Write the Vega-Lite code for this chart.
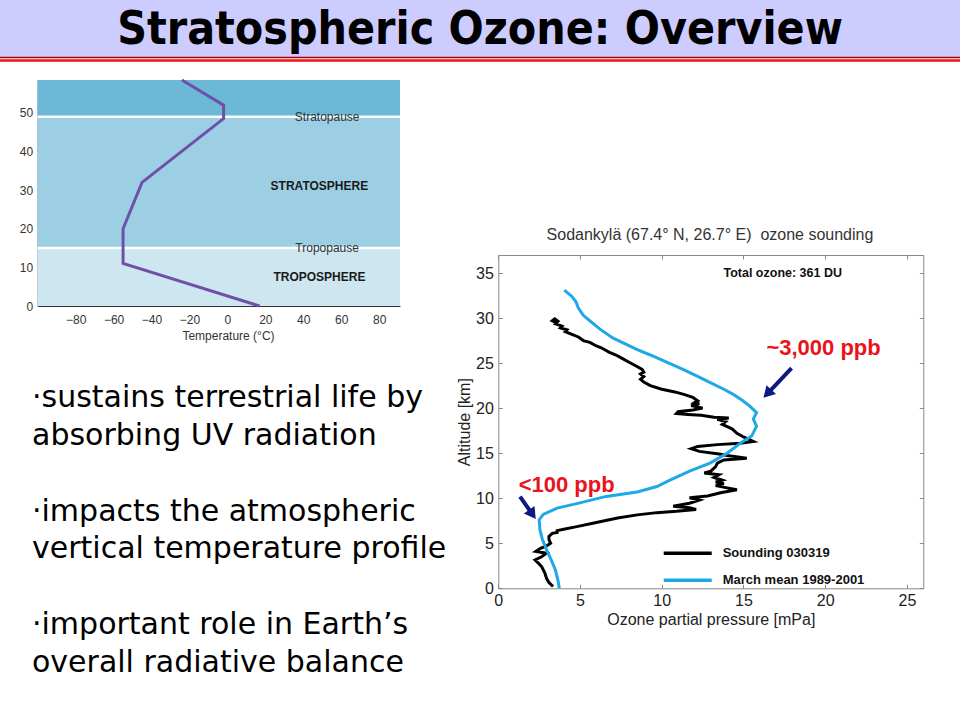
{
  "$schema": "https://vega.github.io/schema/vega-lite/v6.json",
  "width": 960,
  "height": 720,
  "autosize": {"type": "none"},
  "padding": 0,
  "background": "white",
  "config": {
    "view": {"stroke": null},
    "axis": {"grid": false, "labelFont": "Liberation Sans", "titleFont": "Liberation Sans", "labelFlush": false, "labelOverlap": false},
    "text": {"font": "Liberation Sans"}
  },
  "datasets": {
    "bands": [
      {"layer": "Troposphere", "bottom": 0, "top": 15},
      {"layer": "Stratosphere", "bottom": 15, "top": 49},
      {"layer": "Mesosphere", "bottom": 49, "top": 58.5}
    ],
    "boundaries": [
      {"name": "Tropopause", "alt": 15},
      {"name": "Stratopause", "alt": 49}
    ],
    "regions": [
      {"name": "TROPOSPHERE", "alt": 7.5},
      {"name": "STRATOSPHERE", "alt": 31}
    ],
    "profile": [
      {"temp": 17, "alt": 0},
      {"temp": -55, "alt": 11},
      {"temp": -55, "alt": 20},
      {"temp": -45, "alt": 32},
      {"temp": -2, "alt": 48.5},
      {"temp": -2, "alt": 52},
      {"temp": -24, "alt": 58.5}
    ],
    "bullets": [
      {"line": 1, "text": "·sustains terrestrial life by"},
      {"line": 2, "text": "absorbing UV radiation"},
      {"line": 4, "text": "·impacts the atmospheric"},
      {"line": 5, "text": "vertical temperature profile"},
      {"line": 7, "text": "·important role in Earth’s"},
      {"line": 8, "text": "overall radiative balance"}
    ],
    "ozone": [
      {"series": "Sounding 030319", "p": 3.5, "alt": 29.5},
      {"series": "Sounding 030319", "p": 3.3, "alt": 29.7},
      {"series": "Sounding 030319", "p": 3.45, "alt": 29.9},
      {"series": "Sounding 030319", "p": 3.65, "alt": 29.65},
      {"series": "Sounding 030319", "p": 3.5, "alt": 29.35},
      {"series": "Sounding 030319", "p": 3.9, "alt": 29.1},
      {"series": "Sounding 030319", "p": 3.8, "alt": 28.9},
      {"series": "Sounding 030319", "p": 4.2, "alt": 28.7},
      {"series": "Sounding 030319", "p": 4.1, "alt": 28.5},
      {"series": "Sounding 030319", "p": 4.5, "alt": 28.2},
      {"series": "Sounding 030319", "p": 4.9, "alt": 27.9},
      {"series": "Sounding 030319", "p": 5.2, "alt": 27.5},
      {"series": "Sounding 030319", "p": 5.6, "alt": 27.3},
      {"series": "Sounding 030319", "p": 6.0, "alt": 26.9},
      {"series": "Sounding 030319", "p": 6.3, "alt": 26.7},
      {"series": "Sounding 030319", "p": 6.8, "alt": 26.2},
      {"series": "Sounding 030319", "p": 7.2, "alt": 25.9},
      {"series": "Sounding 030319", "p": 7.6, "alt": 25.5},
      {"series": "Sounding 030319", "p": 8.0, "alt": 25.1},
      {"series": "Sounding 030319", "p": 8.4, "alt": 24.7},
      {"series": "Sounding 030319", "p": 8.8, "alt": 24.3},
      {"series": "Sounding 030319", "p": 8.9, "alt": 24.0},
      {"series": "Sounding 030319", "p": 8.7, "alt": 23.8},
      {"series": "Sounding 030319", "p": 8.9, "alt": 23.5},
      {"series": "Sounding 030319", "p": 8.7, "alt": 23.2},
      {"series": "Sounding 030319", "p": 8.9, "alt": 22.9},
      {"series": "Sounding 030319", "p": 9.3, "alt": 22.5},
      {"series": "Sounding 030319", "p": 10.0, "alt": 22.1},
      {"series": "Sounding 030319", "p": 10.8, "alt": 21.8},
      {"series": "Sounding 030319", "p": 11.4, "alt": 21.5},
      {"series": "Sounding 030319", "p": 11.9, "alt": 21.2},
      {"series": "Sounding 030319", "p": 12.2, "alt": 20.8},
      {"series": "Sounding 030319", "p": 12.0, "alt": 20.6},
      {"series": "Sounding 030319", "p": 12.3, "alt": 20.5},
      {"series": "Sounding 030319", "p": 11.8, "alt": 20.3},
      {"series": "Sounding 030319", "p": 12.5, "alt": 20.0},
      {"series": "Sounding 030319", "p": 11.9, "alt": 19.8},
      {"series": "Sounding 030319", "p": 11.0, "alt": 19.6},
      {"series": "Sounding 030319", "p": 10.9, "alt": 19.4},
      {"series": "Sounding 030319", "p": 11.6, "alt": 19.3},
      {"series": "Sounding 030319", "p": 12.4, "alt": 19.2},
      {"series": "Sounding 030319", "p": 13.2, "alt": 19.0},
      {"series": "Sounding 030319", "p": 14.1, "alt": 18.9},
      {"series": "Sounding 030319", "p": 13.4, "alt": 18.75},
      {"series": "Sounding 030319", "p": 13.9, "alt": 18.5},
      {"series": "Sounding 030319", "p": 13.7, "alt": 18.2},
      {"series": "Sounding 030319", "p": 14.3, "alt": 17.7},
      {"series": "Sounding 030319", "p": 14.6, "alt": 17.2},
      {"series": "Sounding 030319", "p": 15.0, "alt": 16.8},
      {"series": "Sounding 030319", "p": 15.6, "alt": 16.3},
      {"series": "Sounding 030319", "p": 14.8, "alt": 16.1},
      {"series": "Sounding 030319", "p": 13.4, "alt": 15.95},
      {"series": "Sounding 030319", "p": 12.2, "alt": 15.75},
      {"series": "Sounding 030319", "p": 11.8, "alt": 15.5},
      {"series": "Sounding 030319", "p": 12.3, "alt": 15.2},
      {"series": "Sounding 030319", "p": 13.5, "alt": 14.9},
      {"series": "Sounding 030319", "p": 14.0, "alt": 14.75},
      {"series": "Sounding 030319", "p": 15.2, "alt": 14.45},
      {"series": "Sounding 030319", "p": 13.8, "alt": 14.25},
      {"series": "Sounding 030319", "p": 13.4, "alt": 13.9},
      {"series": "Sounding 030319", "p": 13.3, "alt": 13.5},
      {"series": "Sounding 030319", "p": 13.0, "alt": 13.0},
      {"series": "Sounding 030319", "p": 12.6, "alt": 12.8},
      {"series": "Sounding 030319", "p": 13.5, "alt": 12.6},
      {"series": "Sounding 030319", "p": 13.2, "alt": 12.3},
      {"series": "Sounding 030319", "p": 13.7, "alt": 12.0},
      {"series": "Sounding 030319", "p": 13.3, "alt": 11.8},
      {"series": "Sounding 030319", "p": 13.8, "alt": 11.6},
      {"series": "Sounding 030319", "p": 13.3, "alt": 11.4},
      {"series": "Sounding 030319", "p": 14.0, "alt": 11.15},
      {"series": "Sounding 030319", "p": 14.6, "alt": 10.95},
      {"series": "Sounding 030319", "p": 13.6, "alt": 10.6},
      {"series": "Sounding 030319", "p": 12.8, "alt": 10.25},
      {"series": "Sounding 030319", "p": 11.7, "alt": 10.05},
      {"series": "Sounding 030319", "p": 12.3, "alt": 9.8},
      {"series": "Sounding 030319", "p": 11.7, "alt": 9.45},
      {"series": "Sounding 030319", "p": 10.7, "alt": 9.1},
      {"series": "Sounding 030319", "p": 11.7, "alt": 8.95},
      {"series": "Sounding 030319", "p": 12.1, "alt": 8.75},
      {"series": "Sounding 030319", "p": 10.9, "alt": 8.55},
      {"series": "Sounding 030319", "p": 9.7, "alt": 8.4},
      {"series": "Sounding 030319", "p": 8.5, "alt": 8.15},
      {"series": "Sounding 030319", "p": 7.3, "alt": 7.8},
      {"series": "Sounding 030319", "p": 6.0, "alt": 7.3},
      {"series": "Sounding 030319", "p": 4.8, "alt": 6.85},
      {"series": "Sounding 030319", "p": 4.0, "alt": 6.55},
      {"series": "Sounding 030319", "p": 3.6, "alt": 6.4},
      {"series": "Sounding 030319", "p": 3.6, "alt": 6.2},
      {"series": "Sounding 030319", "p": 3.3, "alt": 6.1},
      {"series": "Sounding 030319", "p": 3.1, "alt": 5.75},
      {"series": "Sounding 030319", "p": 3.1, "alt": 5.4},
      {"series": "Sounding 030319", "p": 3.2, "alt": 5.0},
      {"series": "Sounding 030319", "p": 2.9, "alt": 4.65},
      {"series": "Sounding 030319", "p": 2.6, "alt": 4.45},
      {"series": "Sounding 030319", "p": 2.3, "alt": 4.1},
      {"series": "Sounding 030319", "p": 2.95, "alt": 3.9},
      {"series": "Sounding 030319", "p": 2.65, "alt": 3.5},
      {"series": "Sounding 030319", "p": 2.25, "alt": 3.15},
      {"series": "Sounding 030319", "p": 2.45, "alt": 2.8},
      {"series": "Sounding 030319", "p": 2.65, "alt": 2.4},
      {"series": "Sounding 030319", "p": 2.85, "alt": 1.7},
      {"series": "Sounding 030319", "p": 2.95, "alt": 1.1},
      {"series": "Sounding 030319", "p": 3.1, "alt": 0.65},
      {"series": "Sounding 030319", "p": 3.35, "alt": 0.2},
      {"series": "March mean 1989-2001", "p": 4.04, "alt": 33.1},
      {"series": "March mean 1989-2001", "p": 4.5, "alt": 32.4},
      {"series": "March mean 1989-2001", "p": 4.75, "alt": 31.8},
      {"series": "March mean 1989-2001", "p": 4.9, "alt": 31.1},
      {"series": "March mean 1989-2001", "p": 5.2, "alt": 30.3},
      {"series": "March mean 1989-2001", "p": 5.6, "alt": 29.7},
      {"series": "March mean 1989-2001", "p": 6.2, "alt": 28.8},
      {"series": "March mean 1989-2001", "p": 7.0, "alt": 27.8},
      {"series": "March mean 1989-2001", "p": 7.7, "alt": 27.2},
      {"series": "March mean 1989-2001", "p": 8.5, "alt": 26.5},
      {"series": "March mean 1989-2001", "p": 9.3, "alt": 25.9},
      {"series": "March mean 1989-2001", "p": 10.3, "alt": 25.1},
      {"series": "March mean 1989-2001", "p": 11.3, "alt": 24.3},
      {"series": "March mean 1989-2001", "p": 12.1, "alt": 23.6},
      {"series": "March mean 1989-2001", "p": 13.0, "alt": 22.8},
      {"series": "March mean 1989-2001", "p": 13.8, "alt": 22.1},
      {"series": "March mean 1989-2001", "p": 14.4, "alt": 21.5},
      {"series": "March mean 1989-2001", "p": 14.9, "alt": 20.9},
      {"series": "March mean 1989-2001", "p": 15.4, "alt": 20.2},
      {"series": "March mean 1989-2001", "p": 15.8, "alt": 19.5},
      {"series": "March mean 1989-2001", "p": 15.6, "alt": 18.8},
      {"series": "March mean 1989-2001", "p": 15.8, "alt": 18.0},
      {"series": "March mean 1989-2001", "p": 15.5, "alt": 16.9},
      {"series": "March mean 1989-2001", "p": 14.8, "alt": 16.1},
      {"series": "March mean 1989-2001", "p": 14.0, "alt": 15.0},
      {"series": "March mean 1989-2001", "p": 12.95, "alt": 13.9},
      {"series": "March mean 1989-2001", "p": 11.7, "alt": 13.0},
      {"series": "March mean 1989-2001", "p": 10.5, "alt": 12.0},
      {"series": "March mean 1989-2001", "p": 9.7, "alt": 11.3},
      {"series": "March mean 1989-2001", "p": 8.5, "alt": 10.7},
      {"series": "March mean 1989-2001", "p": 6.6, "alt": 10.2},
      {"series": "March mean 1989-2001", "p": 4.8, "alt": 9.4},
      {"series": "March mean 1989-2001", "p": 3.6, "alt": 8.9},
      {"series": "March mean 1989-2001", "p": 2.75, "alt": 8.2},
      {"series": "March mean 1989-2001", "p": 2.5, "alt": 7.6},
      {"series": "March mean 1989-2001", "p": 2.55, "alt": 6.5},
      {"series": "March mean 1989-2001", "p": 2.7, "alt": 5.4},
      {"series": "March mean 1989-2001", "p": 2.95, "alt": 4.3},
      {"series": "March mean 1989-2001", "p": 3.25, "alt": 3.1},
      {"series": "March mean 1989-2001", "p": 3.5, "alt": 2.0},
      {"series": "March mean 1989-2001", "p": 3.65, "alt": 0.9},
      {"series": "March mean 1989-2001", "p": 3.73, "alt": 0.0}
    ],
    "notes": [
      {"note": "~3,000 ppb", "p": 19.9, "alt": 26.7},
      {"note": "<100 ppb", "p": 4.18, "alt": 11.5}
    ],
    "arrows": [
      {"target": "~3,000 ppb", "p": 17.94, "alt": 24.44, "p2": 16.54, "alt2": 21.76},
      {"target": "<100 ppb", "p": 1.33, "alt": 10.18, "p2": 2.02, "alt2": 8.39}
    ],
    "heads": [
      {"target": "~3,000 ppb", "p": 16.46, "alt": 21.6},
      {"target": "<100 ppb", "p": 2.09, "alt": 8.21}
    ],
    "ozoneTexts": [
      {"label": "Sodankylä (67.4° N, 26.7° E)\u00a0 ozone sounding", "p": 12.95, "alt": 39.26, "kind": "title"},
      {"label": "Total ozone: 361 DU", "p": 17.4, "alt": 35.04, "kind": "total"}
    ]
  },
  "resolve": {
    "scale": {"x": "independent", "y": "independent", "color": "independent"},
    "axis": {"x": "independent", "y": "independent"}
  },
  "layer": [
    {
      "data": {"values": [{"title": "Stratospheric Ozone: Overview"}]},
      "layer": [
        {
          "mark": {"type": "rect", "fill": "#ccccff"},
          "encoding": {
            "x": {"datum": 0, "type": "quantitative", "scale": {"domain": [0, 1], "range": [0, 960], "nice": false, "zero": false}, "axis": null},
            "x2": {"datum": 1},
            "y": {"datum": 0, "type": "quantitative", "scale": {"domain": [0, 60], "range": [0, 60], "nice": false, "zero": false}, "axis": null},
            "y2": {"datum": 57}
          }
        },
        {
          "mark": {"type": "rule", "stroke": "#a80000", "strokeWidth": 1.5},
          "encoding": {
            "x": {"datum": 0, "type": "quantitative", "scale": {"domain": [0, 1], "range": [0, 960], "nice": false, "zero": false}, "axis": null},
            "x2": {"datum": 1},
            "y": {"datum": 57.6, "type": "quantitative", "scale": {"domain": [0, 60], "range": [0, 60], "nice": false, "zero": false}, "axis": null}
          }
        },
        {
          "mark": {"type": "rule", "stroke": "#ee1111", "strokeWidth": 2.5},
          "encoding": {
            "x": {"datum": 0, "type": "quantitative", "scale": {"domain": [0, 1], "range": [0, 960], "nice": false, "zero": false}, "axis": null},
            "x2": {"datum": 1},
            "y": {"datum": 60.5, "type": "quantitative", "scale": {"domain": [0, 60], "range": [0, 60], "nice": false, "zero": false}, "axis": null}
          }
        },
        {
          "mark": {"type": "text", "font": "DejaVu Sans Condensed, DejaVu Sans", "fontSize": 46, "fontWeight": "bold", "color": "#000000", "align": "center", "baseline": "middle"},
          "encoding": {
            "x": {"datum": 0.5, "type": "quantitative", "scale": {"domain": [0, 1], "range": [0, 960], "nice": false, "zero": false}, "axis": null},
            "y": {"datum": 30, "type": "quantitative", "scale": {"domain": [0, 60], "range": [0, 60], "nice": false, "zero": false}, "axis": null},
            "text": {"field": "title"}
          }
        }
      ]
    },
    {
      "layer": [
        {
          "data": {"name": "bands"},
          "mark": {"type": "rect"},
          "encoding": {
            "x": {"datum": -100, "type": "quantitative", "scale": {"domain": [-100, 91], "range": [37.7, 400], "nice": false, "zero": false},
              "axis": {"orient": "bottom", "offset": -414, "values": [-80, -60, -40, -20, 0, 20, 40, 60, 80], "tickSize": -6, "tickColor": "#333333", "domainColor": "#333333", "labelPadding": 14, "labelFontSize": 12, "labelColor": "#333333", "title": "Temperature (°C)", "titleFontSize": 12, "titleFontWeight": "normal", "titleColor": "#333333", "titlePadding": 5, "titleX": 228}},
            "x2": {"datum": 91},
            "y": {"field": "bottom", "type": "quantitative", "scale": {"domain": [0, 58.5], "range": [306, 80], "nice": false, "zero": false},
              "axis": {"orient": "left", "offset": -37.7, "values": [0, 10, 20, 30, 40, 50], "ticks": false, "domainColor": "#333333", "labelPadding": 5, "labelFontSize": 12, "labelColor": "#333333", "title": null}},
            "y2": {"field": "top"},
            "color": {"field": "layer", "type": "nominal", "scale": {"domain": ["Troposphere", "Stratosphere", "Mesosphere"], "range": ["#cde6ef", "#9dcfe4", "#6cb8d7"]}, "legend": null}
          }
        },
        {
          "data": {"name": "boundaries"},
          "mark": {"type": "rule", "stroke": "#ffffff", "strokeWidth": 2.5},
          "encoding": {
            "x": {"datum": -100, "type": "quantitative", "scale": {"domain": [-100, 91], "range": [37.7, 400], "nice": false, "zero": false}},
            "x2": {"datum": 91},
            "y": {"field": "alt", "type": "quantitative", "scale": {"domain": [0, 58.5], "range": [306, 80], "nice": false, "zero": false}}
          }
        },
        {
          "data": {"name": "boundaries"},
          "mark": {"type": "text", "fontSize": 12, "color": "#333333", "align": "center", "baseline": "middle"},
          "encoding": {
            "x": {"datum": 52.6, "type": "quantitative", "scale": {"domain": [-100, 91], "range": [37.7, 400], "nice": false, "zero": false}},
            "y": {"field": "alt", "type": "quantitative", "scale": {"domain": [0, 58.5], "range": [306, 80], "nice": false, "zero": false}},
            "text": {"field": "name"}
          }
        },
        {
          "data": {"name": "regions"},
          "mark": {"type": "text", "fontSize": 12, "fontWeight": "bold", "color": "#1a1a1a", "align": "center", "baseline": "middle"},
          "encoding": {
            "x": {"datum": 48.5, "type": "quantitative", "scale": {"domain": [-100, 91], "range": [37.7, 400], "nice": false, "zero": false}},
            "y": {"field": "alt", "type": "quantitative", "scale": {"domain": [0, 58.5], "range": [306, 80], "nice": false, "zero": false}},
            "text": {"field": "name"}
          }
        },
        {
          "data": {"name": "profile"},
          "mark": {"type": "line", "stroke": "#6f50a8", "strokeWidth": 3},
          "encoding": {
            "x": {"field": "temp", "type": "quantitative", "scale": {"domain": [-100, 91], "range": [37.7, 400], "nice": false, "zero": false}},
            "y": {"field": "alt", "type": "quantitative", "scale": {"domain": [0, 58.5], "range": [306, 80], "nice": false, "zero": false}},
            "order": {"value": null}
          }
        }
      ]
    },
    {
      "data": {"name": "bullets"},
      "mark": {"type": "text", "font": "DejaVu Sans", "fontSize": 30, "color": "#000000", "align": "left", "baseline": "middle"},
      "encoding": {
        "x": {"datum": 0, "type": "quantitative", "scale": {"domain": [0, 1], "range": [32, 460], "nice": false, "zero": false}, "axis": null},
        "y": {"field": "line", "type": "quantitative", "scale": {"domain": [1, 8], "range": [398, 663], "nice": false, "zero": false}, "axis": null},
        "text": {"field": "text"}
      }
    },
    {
      "layer": [
        {
          "data": {"name": "ozone"},
          "mark": {"type": "line", "strokeWidth": 3},
          "encoding": {
            "x": {"field": "p", "type": "quantitative", "scale": {"domain": [0, 26], "range": [498.3, 923.3], "nice": false, "zero": false},
              "axis": {"orient": "bottom", "offset": -131.7, "values": [0, 5, 10, 15, 20, 25], "tickSize": -4, "tickColor": "#888888", "domainColor": "#888888", "labelPadding": 8, "labelFontSize": 16, "labelColor": "#222222", "title": "Ozone partial pressure [mPa]", "titleFontSize": 16, "titleFontWeight": "normal", "titleColor": "#222222", "titlePadding": 3}},
            "y": {"field": "alt", "type": "quantitative", "scale": {"domain": [0, 37], "range": [588.3, 255], "nice": false, "zero": false},
              "axis": {"orient": "left", "offset": -498.3, "values": [0, 5, 10, 15, 20, 25, 30, 35], "tickSize": -4, "tickColor": "#888888", "domainColor": "#888888", "labelPadding": 9, "labelFontSize": 16, "labelColor": "#222222", "title": "Altitude [km]", "titleFontSize": 16, "titleFontWeight": "normal", "titleColor": "#222222", "titlePadding": 3}},
            "color": {"field": "series", "type": "nominal",
              "scale": {"domain": ["Sounding 030319", "March mean 1989-2001"], "range": ["#000000", "#1ea9e6"]},
              "legend": {"orient": "none", "legendX": 661.7, "legendY": 546.3, "title": null, "symbolType": "stroke", "symbolSize": 2304, "symbolStrokeWidth": 3.5, "labelFont": "Liberation Sans", "labelFontSize": 13, "labelFontWeight": "bold", "labelColor": "#111111", "labelOffset": 9, "clipHeight": 14, "rowPadding": 13, "padding": 0}},
            "order": {"value": null}
          }
        },
        {
          "data": {"name": "notes"},
          "mark": {"type": "text", "fontSize": 22, "fontWeight": "bold", "color": "#e8141c", "align": "center", "baseline": "middle"},
          "encoding": {
            "x": {"field": "p", "type": "quantitative", "scale": {"domain": [0, 26], "range": [498.3, 923.3], "nice": false, "zero": false}},
            "y": {"field": "alt", "type": "quantitative", "scale": {"domain": [0, 37], "range": [588.3, 255], "nice": false, "zero": false}},
            "text": {"field": "note"}
          }
        },
        {
          "data": {"name": "arrows"},
          "mark": {"type": "rule", "stroke": "#0c1a82", "strokeWidth": 4},
          "encoding": {
            "x": {"field": "p", "type": "quantitative", "scale": {"domain": [0, 26], "range": [498.3, 923.3], "nice": false, "zero": false}},
            "y": {"field": "alt", "type": "quantitative", "scale": {"domain": [0, 37], "range": [588.3, 255], "nice": false, "zero": false}},
            "x2": {"field": "p2"},
            "y2": {"field": "alt2"}
          }
        },
        {
          "data": {"name": "heads"},
          "transform": [{"filter": "datum.target === '~3,000 ppb'"}],
          "mark": {"type": "point", "shape": "triangle-up", "filled": true, "color": "#0c1a82", "opacity": 1, "size": 170, "angle": 223.5},
          "encoding": {
            "x": {"field": "p", "type": "quantitative", "scale": {"domain": [0, 26], "range": [498.3, 923.3], "nice": false, "zero": false}},
            "y": {"field": "alt", "type": "quantitative", "scale": {"domain": [0, 37], "range": [588.3, 255], "nice": false, "zero": false}}
          }
        },
        {
          "data": {"name": "heads"},
          "transform": [{"filter": "datum.target === '<100 ppb'"}],
          "mark": {"type": "point", "shape": "triangle-up", "filled": true, "color": "#0c1a82", "opacity": 1, "size": 170, "angle": 144.7},
          "encoding": {
            "x": {"field": "p", "type": "quantitative", "scale": {"domain": [0, 26], "range": [498.3, 923.3], "nice": false, "zero": false}},
            "y": {"field": "alt", "type": "quantitative", "scale": {"domain": [0, 37], "range": [588.3, 255], "nice": false, "zero": false}}
          }
        },
        {
          "data": {"name": "ozoneTexts"},
          "transform": [{"filter": "datum.kind === 'title'"}],
          "mark": {"type": "text", "fontSize": 16, "color": "#333333", "align": "center", "baseline": "middle"},
          "encoding": {
            "x": {"field": "p", "type": "quantitative", "scale": {"domain": [0, 26], "range": [498.3, 923.3], "nice": false, "zero": false}},
            "y": {"field": "alt", "type": "quantitative", "scale": {"domain": [0, 37], "range": [588.3, 255], "nice": false, "zero": false}},
            "text": {"field": "label"}
          }
        },
        {
          "data": {"name": "ozoneTexts"},
          "transform": [{"filter": "datum.kind === 'total'"}],
          "mark": {"type": "text", "fontSize": 12.5, "fontWeight": "bold", "color": "#111111", "align": "center", "baseline": "middle"},
          "encoding": {
            "x": {"field": "p", "type": "quantitative", "scale": {"domain": [0, 26], "range": [498.3, 923.3], "nice": false, "zero": false}},
            "y": {"field": "alt", "type": "quantitative", "scale": {"domain": [0, 37], "range": [588.3, 255], "nice": false, "zero": false}},
            "text": {"field": "label"}
          }
        }
      ]
    },
    {
      "data": {"values": [{"frame": "ozone"}]},
      "mark": {"type": "point", "opacity": 0},
      "encoding": {
        "x": {"datum": 0, "type": "quantitative", "scale": {"domain": [0, 26], "range": [498.3, 923.3], "nice": false, "zero": false},
          "axis": {"orient": "top", "offset": -255, "values": [0, 5, 10, 15, 20, 25], "labels": false, "tickSize": -4, "tickColor": "#888888", "domainColor": "#888888", "title": null}},
        "y": {"datum": 0, "type": "quantitative", "scale": {"domain": [0, 37], "range": [588.3, 255], "nice": false, "zero": false},
          "axis": {"orient": "right", "offset": -36.7, "values": [0, 5, 10, 15, 20, 25, 30, 35], "labels": false, "tickSize": -4, "tickColor": "#888888", "domainColor": "#888888", "title": null}}
      }
    }
  ]
}
